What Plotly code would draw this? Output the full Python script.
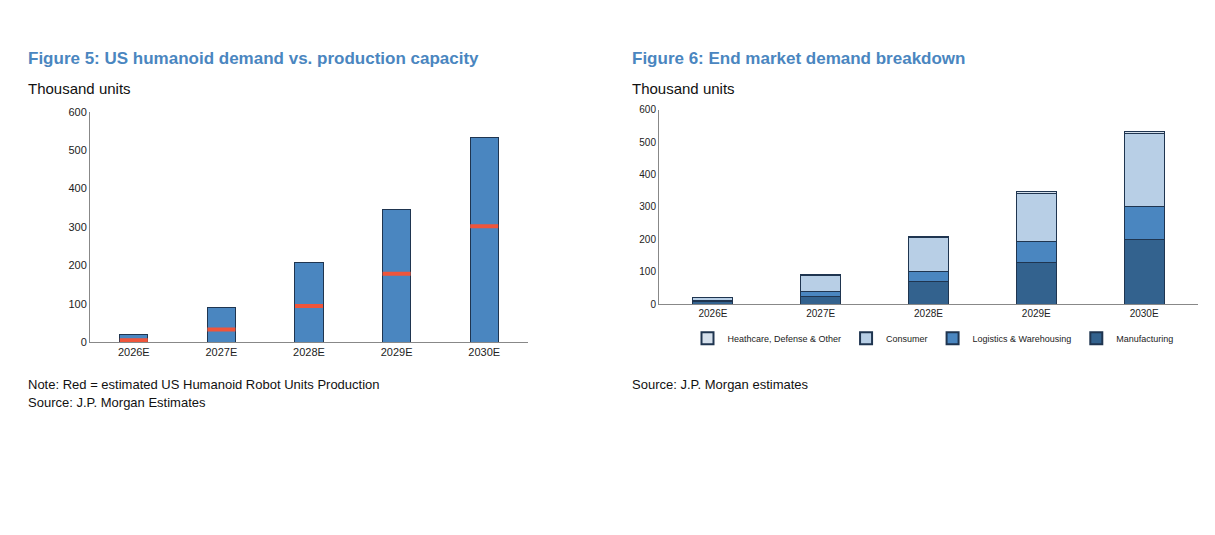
import plotly.graph_objects as go

years = ["2026E", "2027E", "2028E", "2029E", "2030E"]
demand = [20, 90, 208, 346, 532]
production = [5, 33, 94, 178, 302]
manufacturing = [8, 24, 70, 127, 200]
logistics = [3, 14, 32, 65, 102]
consumer = [8, 50, 102, 150, 225]
other = [1, 2, 4, 4, 5]

W, H = 1195, 515
OX, OY = 10, 12
def px(x): return (x - OX) / W
def py(y): return 1 - (y - OY) / H

fig = go.Figure()
fig.add_trace(go.Bar(x=years, y=demand, marker=dict(color="#4a86c0", line=dict(color="#1f3550", width=1)),
                     width=0.32, showlegend=False, xaxis="x", yaxis="y"))
fig.add_trace(go.Scatter(x=years, y=production, mode="markers", showlegend=False,
                         marker=dict(symbol="line-ew-open", size=20, line=dict(color="#ff0000", width=4)),
                         xaxis="x", yaxis="y"))

series = [("Manufacturing", manufacturing, "#33628e"), ("Logistics & Warehousing", logistics, "#4a86c0"),
          ("Consumer", consumer, "#b8cfe6"), ("Heathcare, Defense & Other", other, "#d5e0ec")]
for name, vals, col in series:
    fig.add_trace(go.Bar(x=years, y=vals, name=name, width=0.37,
                         marker=dict(color=col, line=dict(color="#1f3550", width=1)),
                         xaxis="x2", yaxis="y2"))

ax = dict(showgrid=False, showline=True, linecolor="#888", ticks="", tickfont=dict(size=11, color="#222"), fixedrange=True)
ay = dict(showgrid=False, showline=True, linecolor="#888", range=[0, 600], dtick=100, ticks="",
          tickfont=dict(size=11, color="#222"), zeroline=False)
fig.update_layout(
    width=W, height=H, margin=dict(l=0, r=0, t=0, b=0), paper_bgcolor="white", plot_bgcolor="white",
    font=dict(family="Liberation Sans, Arial, sans-serif"),
    barmode="stack",
    xaxis=dict(ax, domain=[px(92), px(530)], anchor="y"),
    yaxis=dict(ay, domain=[py(348), py(112)], anchor="x"),
    xaxis2=dict(ax, domain=[px(661), px(1200)], anchor="y2", tickfont=dict(size=10, color="#222")),
    yaxis2=dict(ay, domain=[py(309), py(110)], anchor="x2", tickfont=dict(size=10, color="#222")),
    legend=dict(orientation="h", x=px(935), xanchor="center", y=py(344), yanchor="middle",
                font=dict(size=9, color="#222"), itemwidth=30, itemsizing="constant", tracegroupgap=0),
)
anns = [
    (28, 58, "<b>Figure 5: US humanoid demand vs. production capacity</b>", 17, "#4a86c0"),
    (632, 58, "<b>Figure 6: End market demand breakdown</b>", 17, "#4a86c0"),
    (28, 88, "Thousand units", 15, "#111"),
    (632, 88, "Thousand units", 15, "#111"),
    (28, 391, "Note: Red = estimated US Humanoid Robot Units Production", 13, "#111"),
    (28, 410, "Source: J.P. Morgan Estimates", 13, "#111"),
    (632, 391, "Source: J.P. Morgan estimates", 13, "#111"),
]
fig.update_layout(annotations=[dict(x=px(x), y=py(y), xref="paper", yref="paper", xanchor="left", yanchor="middle",
                                    text=t, showarrow=False, font=dict(size=s, color=c)) for x, y, t, s, c in anns])
fig.write_html("out.html")
